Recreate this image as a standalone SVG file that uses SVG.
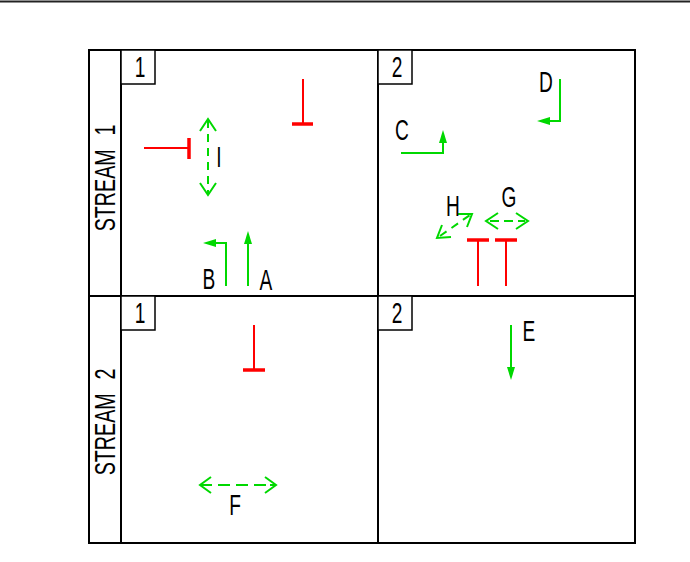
<svg xmlns="http://www.w3.org/2000/svg" width="690" height="562" viewBox="0 0 690 562">
<style>
.f{fill:none;stroke:#000;stroke-width:2}
.b{fill:#fff;stroke:#000;stroke-width:1.5}
.t{font-family:"Liberation Sans",Arial,sans-serif;font-size:29px;fill:#000;text-anchor:middle;word-spacing:12px}
.r{fill:none;stroke:#f00;stroke-width:2}
.rb{fill:none;stroke:#f00;stroke-width:3.5}
.g{fill:none;stroke:#00d800;stroke-width:2}
.d{stroke-dasharray:8 6}
.c{fill:none;stroke:#00d800;stroke-width:2}
.a{fill:#00d800;stroke:none}
</style>
<rect width="690" height="562" fill="#fff"/>
<path d="M0 1.5H690" stroke="#222" stroke-width="2"/>
<g id="frame">
<rect class="f" x="89" y="50" width="546" height="493"/>
<path class="f" d="M121 50V543M378 50V543M89 296H635"/>
</g>
<g id="cell-1-1"><rect class="b" x="121" y="50" width="34" height="34"/><text class="t" transform="translate(140 77) scale(.66 1)">1</text></g>
<g id="cell-1-2"><rect class="b" x="378" y="50" width="34" height="34"/><text class="t" transform="translate(397 77) scale(.66 1)">2</text></g>
<g id="cell-2-1"><rect class="b" x="121" y="296" width="34" height="34"/><text class="t" transform="translate(140 323) scale(.66 1)">1</text></g>
<g id="cell-2-2"><rect class="b" x="378" y="296" width="34" height="34"/><text class="t" transform="translate(397 323) scale(.66 1)">2</text></g>
<g id="stream-1"><text class="t" transform="translate(115 178) rotate(-90) scale(.68 1)">STREAM 1</text></g>
<g id="stream-2"><text class="t" transform="translate(115 422) rotate(-90) scale(.68 1)">STREAM 2</text></g>
<g id="connectors">
<path class="r" d="M303 79V124"/><path class="rb" d="M292 124H313"/>
<path class="r" d="M144 148H189"/><path class="rb" d="M189 138V159"/>
<path class="r" d="M254 325V370"/><path class="rb" d="M243 370H265"/>
<path class="r" d="M478 286V240"/><path class="rb" d="M467 240H489"/>
<path class="r" d="M506 286V240"/><path class="rb" d="M495 240H517"/>
<path class="g d" d="M208 120V193"/><path class="c" d="M200 131L208 119L216 131M200 183L208 195L216 183"/>
<path class="g" d="M226 286V243H212"/><path class="a" d="M203 243L216 239V247Z"/>
<path class="g" d="M248 286V240"/><path class="a" d="M248 231L252 244H244Z"/>
<path class="g" d="M401 153H443V140"/><path class="a" d="M443 130L447 143H439Z"/>
<path class="g" d="M560 79V121H546"/><path class="a" d="M537 121L550 117V125Z"/>
<path class="g" d="M511 325V370"/><path class="a" d="M511 380L507 367H515Z"/>
<path class="g d" d="M440 236L470 215"/><path class="c" d="M458 214L472 214L467 227M451 237L437 238L442 225"/>
<path class="g" d="M490 221H499M504 221H513M518 221H525"/><path class="c" d="M498 213L486 221L498 229M516 213L528 221L516 229"/>
<path class="g" d="M201 485H212M218 485H230M236 485H248M254 485H266M270 485H275"/><path class="c" d="M211 477L200 485L211 493M265 477L276 485L265 493"/>
</g>
<g id="labels">
<text class="t" transform="translate(219 167) scale(.66 1)">I</text>
<text class="t" transform="translate(209 289) scale(.66 1)">B</text>
<text class="t" transform="translate(266 290) scale(.66 1)">A</text>
<text class="t" transform="translate(402 140) scale(.66 1)">C</text>
<text class="t" transform="translate(546 92) scale(.66 1)">D</text>
<text class="t" transform="translate(453 216) scale(.66 1)">H</text>
<text class="t" transform="translate(509 207) scale(.66 1)">G</text>
<text class="t" transform="translate(235 515) scale(.66 1)">F</text>
<text class="t" transform="translate(529 341) scale(.66 1)">E</text>
</g>
</svg>
